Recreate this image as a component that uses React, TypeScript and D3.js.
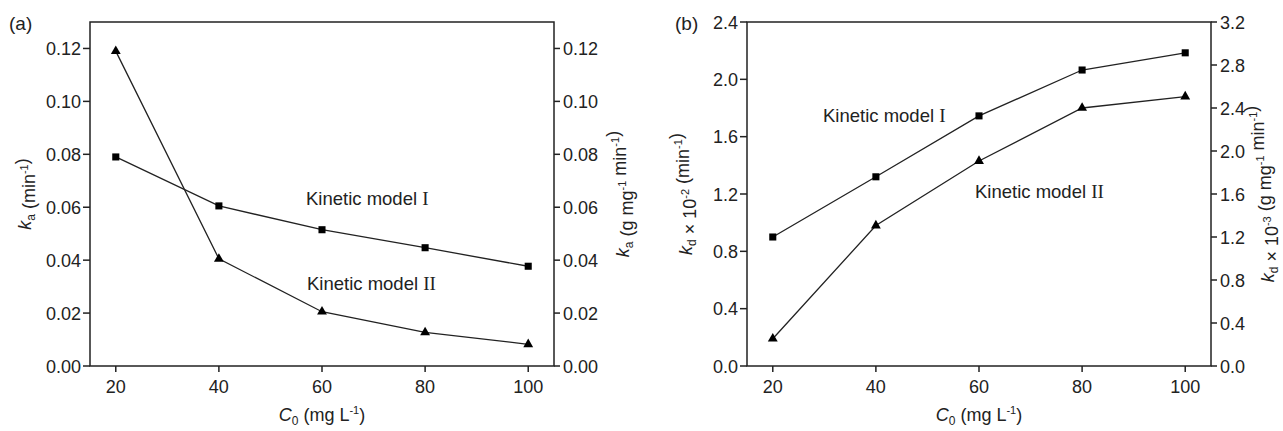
import * as d3 from "d3";

// C0 values (mg/L)
const concentrations = [20, 40, 60, 80, 100];

// panel (a): ka
const kaModelI = [0.079, 0.0605, 0.0515, 0.0447, 0.0377];
const kaModelII = [0.119, 0.0405, 0.0205, 0.0127, 0.0082];

// panel (b): kd  (model I on left axis x10^-2, model II on right axis x10^-3)
const kdModelI = [0.9, 1.32, 1.745, 2.065, 2.185];
const kdModelII = [0.19, 0.98, 1.43, 1.8, 1.88];

const xTicks = [20, 40, 60, 80, 100];
const aTicks = [0, 0.02, 0.04, 0.06, 0.08, 0.1, 0.12];
const bLeftTicks = [0, 0.4, 0.8, 1.2, 1.6, 2.0, 2.4];
const bRightTicks = [0, 0.4, 0.8, 1.2, 1.6, 2.0, 2.4, 2.8, 3.2];

const FONT = "'Liberation Sans', Arial, sans-serif";
const SERIF = "'Liberation Serif', 'Times New Roman', serif";
const INK = "#222";

function Markers({ pts, kind }) {
  const gen = d3.symbol().type(kind === "square" ? d3.symbolSquare : d3.symbolTriangle).size(kind === "square" ? 50 : 42);
  return (
    <g>
      {pts.map((p, i) => (
        <path key={i} d={gen()} transform={`translate(${p[0]},${p[1]})`} fill="#000" />
      ))}
    </g>
  );
}

function Panel({ left, right, top, bottom, yDomain, yTicks, yFmt, rDomain, rTicks, rFmt, series, labels, tag, leftTitle, rightTitle, leftTitleX, rightTitleX }) {
  const x = d3.scaleLinear().domain([15, 105]).range([left, right]);
  const y = d3.scaleLinear().domain(yDomain).range([bottom, top]);
  const yr = d3.scaleLinear().domain(rDomain).range([bottom, top]);
  const line = d3.line();
  const midY = (top + bottom) / 2;
  return (
    <g fontFamily={FONT} fill={INK}>
      <rect x={left} y={top} width={right - left} height={bottom - top} fill="none" stroke={INK} strokeWidth={1.5} />
      {/* bottom ticks */}
      {xTicks.map((t) => (
        <g key={t}>
          <line x1={x(t)} x2={x(t)} y1={bottom} y2={bottom + 6} stroke={INK} strokeWidth={1.5} />
          <text x={x(t)} y={bottom + 27} textAnchor="middle" fontSize={18}>{t}</text>
        </g>
      ))}
      {/* left ticks */}
      {yTicks.map((t) => (
        <g key={t}>
          <line x1={left - 7} x2={left} y1={y(t)} y2={y(t)} stroke={INK} strokeWidth={1.5} />
          <text x={left - 9} y={y(t) + 6.5} textAnchor="end" fontSize={18}>{yFmt(t)}</text>
        </g>
      ))}
      {/* right ticks */}
      {rTicks.map((t) => (
        <g key={t}>
          <line x1={right} x2={right + 6} y1={yr(t)} y2={yr(t)} stroke={INK} strokeWidth={1.5} />
          <text x={right + 9} y={yr(t) + 6.5} textAnchor="start" fontSize={18}>{rFmt(t)}</text>
        </g>
      ))}
      {series.map((s, i) => {
        const sc = s.axis === "right" ? yr : y;
        const pts = concentrations.map((c, j) => [x(c), sc(s.values[j])]);
        return (
          <g key={i}>
            <path d={line(pts)} fill="none" stroke={INK} strokeWidth={1.3} />
            <Markers pts={pts} kind={s.marker} />
          </g>
        );
      })}
      {labels.map((l, i) => (
        <text key={i} x={l.x} y={l.y} fontSize={18.5}>
          Kinetic model <tspan fontFamily={SERIF} fontSize={19}>{l.roman}</tspan>
        </text>
      ))}
      <text x={tag[0]} y={tag[1]} fontSize={19}>{tag[2]}</text>
      <text x={(left + right) / 2} y={bottom + 55} textAnchor="middle" fontSize={18}>
        <tspan fontStyle="italic">C</tspan>
        <tspan fontSize={12} dy={4}>0</tspan>
        <tspan dy={-4}> (mg L</tspan>
        <tspan fontSize={11} dy={-7}>-1</tspan>
        <tspan dy={7}>)</tspan>
      </text>
      <text transform={`translate(${leftTitleX},${midY}) rotate(-90)`} textAnchor="middle" fontSize={18}>
        {leftTitle}
      </text>
      <text transform={`translate(${rightTitleX},${midY}) rotate(-90)`} textAnchor="middle" fontSize={18}>
        {rightTitle}
      </text>
    </g>
  );
}

const sub = (s) => [<tspan key="s1" fontSize={12} dy={4}>{s}</tspan>, <tspan key="s2" dy={-4}>{""}</tspan>];
const sup = (s, k) => [<tspan key={k + "a"} fontSize={11} dy={-7}>{s}</tspan>, <tspan key={k + "b"} dy={7}>{""}</tspan>];

export default function App() {
  const f2 = (t) => t.toFixed(2);
  const f1 = (t) => t.toFixed(1);
  return (
    <svg width={1283} height={431} style={{ position: "absolute", left: 0, top: 0, background: "#fff" }}>
      <Panel
        left={90} right={554} top={22} bottom={366}
        yDomain={[0, 0.13]} yTicks={aTicks} yFmt={f2}
        rDomain={[0, 0.13]} rTicks={aTicks} rFmt={f2}
        series={[
          { values: kaModelI, marker: "square", axis: "left" },
          { values: kaModelII, marker: "triangle", axis: "left" },
        ]}
        labels={[
          { x: 306, y: 205, roman: "I" },
          { x: 307, y: 290, roman: "II" },
        ]}
        tag={[9, 30, "(a)"]}
        leftTitleX={31}
        rightTitleX={629}
        leftTitle={[<tspan key="k" fontStyle="italic">k</tspan>, ...sub("a"), <tspan key="t"> (min</tspan>, ...sup("-1", "m"), <tspan key="e">)</tspan>]}
        rightTitle={[<tspan key="k" fontStyle="italic">k</tspan>, ...sub("a"), <tspan key="t"> (g mg</tspan>, ...sup("-1", "g"), <tspan key="t2"> min</tspan>, ...sup("-1", "m"), <tspan key="e">)</tspan>]}
      />
      <Panel
        left={747} right={1211} top={22} bottom={366}
        yDomain={[0, 2.4]} yTicks={bLeftTicks} yFmt={f1}
        rDomain={[0, 3.2]} rTicks={bRightTicks} rFmt={f1}
        series={[
          { values: kdModelI, marker: "square", axis: "left" },
          { values: kdModelII, marker: "triangle", axis: "left" },
        ]}
        labels={[
          { x: 823, y: 122, roman: "I" },
          { x: 975, y: 198, roman: "II" },
        ]}
        tag={[675, 30, "(b)"]}
        leftTitleX={692}
        rightTitleX={1274}
        leftTitle={[<tspan key="k" fontStyle="italic">k</tspan>, ...sub("d"), <tspan key="t"> × 10</tspan>, ...sup("-2", "p"), <tspan key="t1"> (min</tspan>, ...sup("-1", "m"), <tspan key="e">)</tspan>]}
        rightTitle={[<tspan key="k" fontStyle="italic">k</tspan>, ...sub("d"), <tspan key="t"> × 10</tspan>, ...sup("-3", "p"), <tspan key="t1"> (g mg</tspan>, ...sup("-1", "g"), <tspan key="t2"> min</tspan>, ...sup("-1", "m"), <tspan key="e">)</tspan>]}
      />
    </svg>
  );
}
